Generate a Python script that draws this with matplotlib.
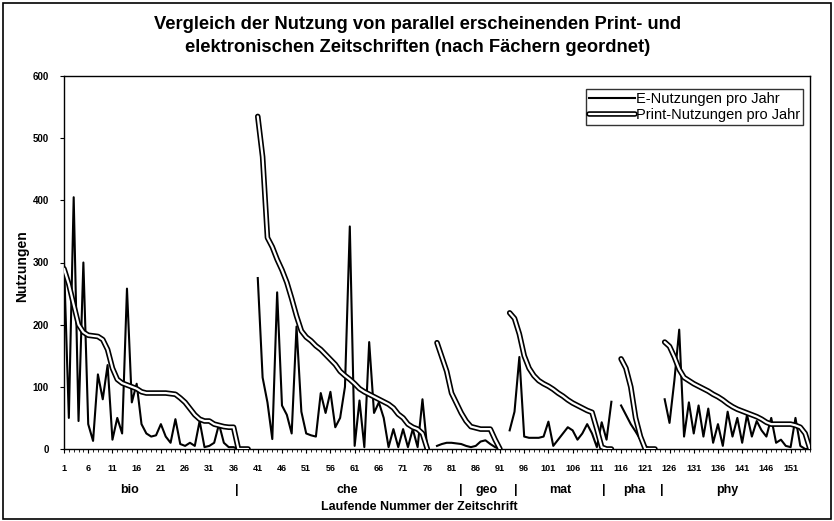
import numpy as np
import matplotlib
matplotlib.use("Agg")
import matplotlib.pyplot as plt
import matplotlib.patheffects as pe
from matplotlib.patches import Rectangle

plt.rcParams['font.family'] = ['Liberation Sans', 'DejaVu Sans']

N = None
# E-Nutzungen pro Jahr (journal 1..155, None = blank separator between subjects)
e_use = [
    # bio 1-40
    300, 50, 405, 45, 300, 40, 13, 120, 80, 135, 15, 50, 25, 258, 75, 105, 40, 25, 20, 22,
    40, 20, 10, 48, 8, 5, 10, 5, 45, 3, 5, 10, 40, 10, 3, 3, 0, 0, 0, N,
    # che 41-77
    275, 115, 75, 16, 252, 70, 55, 25, 197, 60, 25, 22, 20, 90, 58, 92, 35, 50, 100, 358,
    5, 78, 3, 172, 58, 75, 50, 3, 32, 3, 32, 3, 32, 3, 80, 0, N,
    # geo 78-92
    5, 8, 10, 10, 9, 8, 5, 3, 5, 12, 14, 8, 3, 0, N,
    # mat 93-115
    30, 60, 148, 20, 18, 18, 18, 20, 44, 5, 15, 25, 35, 30, 15, 25, 40, 25, 3, 43, 15, 76, N,
    # pha 116-124
    70, 55, 40, 28, 15, 5, 0, 0, N,
    # phy 125-155
    80, 42, 110, 192, 20, 75, 25, 70, 20, 65, 10, 40, 5, 60, 20, 50, 10, 55, 20, 45,
    30, 20, 50, 10, 15, 5, 3, 50, 5, 0, 0,
]
# Print-Nutzungen pro Jahr
print_use = [
    # bio 1-40
    290, 265, 232, 200, 188, 183, 182, 181, 176, 160, 130, 112, 106, 103, 100, 97, 92, 90, 90, 90,
    90, 90, 89, 88, 82, 75, 65, 55, 48, 45, 45, 40, 38, 36, 35, 35, 0, 0, 0, N,
    # che 41-77
    535, 470, 340, 325, 305, 288, 268, 242, 214, 190, 180, 174, 166, 160, 152, 144, 136, 125, 118, 112,
    105, 97, 92, 88, 84, 80, 76, 72, 66, 56, 50, 40, 35, 32, 25, 0, N,
    # geo 78-92
    171, 148, 125, 90, 74, 58, 45, 36, 34, 32, 32, 32, 15, 0, N,
    # mat 93-115
    219, 210, 185, 150, 130, 118, 110, 105, 101, 96, 90, 85, 79, 74, 70, 66, 62, 59, 32, 3, 0, 0, N,
    # pha 116-124
    145, 130, 100, 50, 20, 0, 0, 0, N,
    # phy 125-155
    172, 165, 148, 128, 115, 110, 105, 101, 97, 93, 88, 84, 79, 73, 68, 64, 61, 58, 55, 52,
    48, 43, 40, 40, 40, 40, 40, 38, 35, 25, 0,
]

tick_labels = [str(v) for v in range(1, 152, 5)]
subjects = ["bio", "|", "che", "|", "geo", "|", "mat", "|", "pha", "|", "phy"]
subject_x = [130, 237, 347, 461, 487, 516, 560, 604, 634, 662, 727]

title = "Vergleich der Nutzung von parallel erscheinenden Print- und\nelektronischen Zeitschriften (nach Fächern geordnet)"

e_arr = np.array([np.nan if v is None else v for v in e_use], dtype=float)
p_arr = np.array([np.nan if v is None else v for v in print_use], dtype=float)
x = np.arange(1, len(e_arr) + 1)

W, H = 834, 521
fig = plt.figure(figsize=(W / 100, H / 100), dpi=100)
fig.patches.append(Rectangle((3 / W, 2 / H), 828 / W, 516 / H, transform=fig.transFigure,
                             fill=False, edgecolor='black', linewidth=1.2))

ax = fig.add_axes([64 / W, 1 - 449 / H, (810 - 64) / W, (449 - 76) / H])
ax.plot(x, e_arr, color='black', linewidth=1.5, label='E-Nutzungen pro Jahr', zorder=3)
ax.plot(x, p_arr, color='white', linewidth=1.6, label='Print-Nutzungen pro Jahr', zorder=4,
        path_effects=[pe.Stroke(linewidth=4.0, foreground='black'), pe.Normal()],
        solid_capstyle='round')

ax.set_xlim(1, len(e_arr))
ax.set_ylim(0, 600)
ax.set_yticks(range(0, 601, 100))
ax.set_xticks(range(1, 152, 5))
ax.set_xticklabels(tick_labels)
ax.set_xticks(x, minor=True)
ax.tick_params(axis='x', which='major', length=3, labelsize=6.5, pad=8)
ax.tick_params(axis='x', which='minor', length=2)
ax.tick_params(axis='y', length=3, labelsize=7, pad=8)
for lab in ax.get_xticklabels() + ax.get_yticklabels():
    lab.set_fontweight('bold')
for s in ax.spines.values():
    s.set_linewidth(1.0)

ax.set_ylabel("Nutzungen", fontsize=10, fontweight='bold')
ax.yaxis.set_label_coords((29 - 64) / 746, 0.49)

leg = ax.legend(loc='upper right', bbox_to_anchor=((803 - 64) / 746, (449 - 89) / 373),
                fontsize=10.5, frameon=True, fancybox=False, edgecolor='black',
                handlelength=3.1, handletextpad=0.1, borderpad=0.2, labelspacing=0.15,
                borderaxespad=0)
leg.get_frame().set_linewidth(1.0)

fig.text(418 / W, 1 - 36 / H, title, ha='center', va='center',
         fontsize=13.2, fontweight='bold', linespacing=1.45)

for s, xp in zip(subjects, subject_x):
    fig.text(xp / W, 1 - 490 / H, s, ha='center', va='center', fontsize=9, fontweight='bold')
fig.text(419 / W, 1 - 507 / H, "Laufende Nummer der Zeitschrift", ha='center', va='center',
         fontsize=9, fontweight='bold')

fig.savefig("out.png", dpi=100)
